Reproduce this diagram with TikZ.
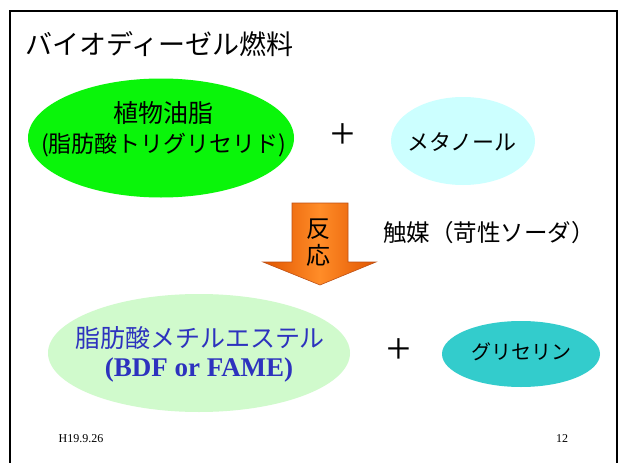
\documentclass[tikz,border=0pt]{standalone}
\usepackage{fontspec}
\setmainfont{Liberation Serif}
\newfontfamily\jp{Noto Sans CJK JP}
\usetikzlibrary{shapes.geometric}
\definecolor{oilgreen}{RGB}{10,245,10}
\definecolor{methcyan}{RGB}{204,255,255}
\definecolor{famegreen}{RGB}{208,250,204}
\definecolor{glycyan}{RGB}{51,204,204}
\definecolor{fameblue}{RGB}{45,50,190}
\definecolor{arrowdark}{RGB}{225,85,0}
\definecolor{arrowlight}{RGB}{255,140,40}
\newcommand{\fsz}[1]{\fontsize{#1}{#1}\selectfont}
\tikzset{
  blob/.style={ellipse, draw=none, inner sep=0pt},
  jtext/.style={inner sep=0pt, font=\jp},
  plussign/.style={inner sep=0pt, font=\rmfamily\fsz{44}},
  foot/.style={inner sep=0pt, font=\rmfamily\fsz{12}},
}
\begin{document}
\begin{tikzpicture}[x=1pt,y=-1pt]
\useasboundingbox (0,0) rectangle (619,463);
\fill[white] (0,0) rectangle (619,463);
\draw[line width=2pt] (10,464) -- (10,11) -- (617,11) -- (617,464);

% title
\node[jtext, anchor=west, font=\jp\fsz{27}] (title) at (25,44) {バイオディーゼル燃料};

% top row
\node[blob, fill=oilgreen, minimum width=266pt, minimum height=119pt] (oil) at (161,138) {};
\node[jtext, font=\jp\fsz{25}] (oil1) at (163,113) {植物油脂};
\node[jtext, font=\jp\fsz{23}] (oil2) at (164,145) {(脂肪酸トリグリセリド)};
\node[plussign] (plus1) at (343,136) {+};
\node[blob, fill=methcyan, minimum width=144pt, minimum height=88pt] (meth) at (463,141) {};
\node[jtext, font=\jp\fsz{22}] (methtxt) at (462,142) {メタノール};

% arrow
\shade[left color=arrowdark, right color=arrowdark, middle color=arrowlight, draw={rgb,255:red,190;green,80;blue,20}, line width=0.6pt]
  (292,203) -- (348,203) -- (348,262) -- (376,262) -- (320,285) -- (263,262) -- (292,262) -- cycle;
\node[jtext, font=\jp\fsz{24}] (re1) at (318,229) {反};
\node[jtext, font=\jp\fsz{24}] (re2) at (318,255) {応};
\node[jtext, anchor=west, font=\jp\fsz{23.5}] (cat) at (383,233) {触媒（苛性ソーダ）};

% bottom row
\node[blob, fill=famegreen, minimum width=302pt, minimum height=118pt] (fame) at (199,353) {};
\node[jtext, text=fameblue, font=\jp\fsz{25}] (fame1) at (200,338) {脂肪酸メチルエステル};
\node[inner sep=0pt, text=fameblue, font=\rmfamily\bfseries\fsz{27}] (fame2) at (199,370) {(BDF or FAME)};
\node[plussign] (plus2) at (399,351) {+};
\node[blob, fill=glycyan, minimum width=158pt, minimum height=66pt] (gly) at (521,354) {};
\node[jtext, font=\jp\fsz{20}] (glytxt) at (521,352) {グリセリン};

% footer
\node[foot] (date) at (81,439) {H19.9.26};
\node[foot] (page) at (562,439) {12};
\end{tikzpicture}
\end{document}
